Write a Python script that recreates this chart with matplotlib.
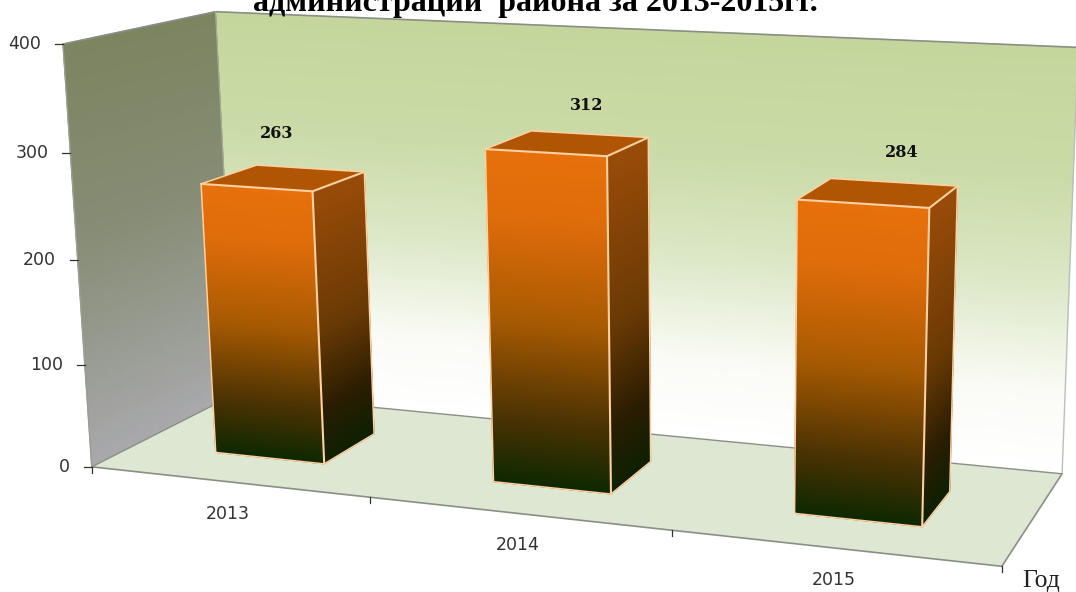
import numpy as np
import matplotlib
import matplotlib.pyplot as plt
from matplotlib.colors import LinearSegmentedColormap

matplotlib.use('Agg')

# --- data ---
years = ['2013', '2014', '2015']
values = [263, 312, 284]
value_ticks = [0, 100, 200, 300, 400]
title = 'администрации  района за 2013-2015гг.'
x_axis_name = 'Год'

# --- camera: where known box points land on the picture (x, value, depth) -> (px, py) ---
anchors = [
    ((0, 0, 0), (92, 467)),
    ((1, 0, 0), (371, 497)),
    ((2, 0, 0), (672, 531)),
    ((3, 0, 0), (1002, 565)),
    ((0, 0, 1), (235, 393)),
    ((3, 0, 1), (1062, 475)),
    ((0, 100, 0), (85, 366)),
    ((0, 200, 0), (77, 260)),
    ((0, 300, 0), (70, 152)),
    ((0, 400, 0), (63, 45)),
    ((0, 400, 1), (216, 12)),
    ((3, 400, 1), (1078, 47)),
]


def fit_camera(points):
    rows, rhs = [], []
    for (x, v, z), (px, py) in points:
        v = v / 400
        rows.append([x, v, z, 1, 0, 0, 0, 0, -px * x, -px * v, -px * z])
        rows.append([0, 0, 0, 0, x, v, z, 1, -py * x, -py * v, -py * z])
        rhs += [px, py]
    sol = np.linalg.lstsq(np.array(rows, float), np.array(rhs, float), rcond=None)[0]
    return np.append(sol, 1).reshape(3, 4)


camera = fit_camera(anchors)


def project(x, v, z):
    x, v, z = np.broadcast_arrays(x, np.asarray(v, float) / 400, z)
    w = camera[2, 0] * x + camera[2, 1] * v + camera[2, 2] * z + camera[2, 3]
    px = (camera[0, 0] * x + camera[0, 1] * v + camera[0, 2] * z + camera[0, 3]) / w
    py = (camera[1, 0] * x + camera[1, 1] * v + camera[1, 2] * z + camera[1, 3]) / w
    return px, py


fig = plt.figure(figsize=(10.76, 5.92), dpi=100, facecolor='white')
ax = fig.add_axes([0, 0, 1, 1])
ax.set_xlim(0, 1076)
ax.set_ylim(592, 0)
ax.axis('off')


def shaded_face(a, b, c, d, cmap, zorder):
    # a-b is the top edge, d-c the bottom one; colour runs from top to bottom
    s, t = np.meshgrid(np.linspace(0, 1, 12), np.linspace(0, 1, 60))
    pts = [(1 - s) * (1 - t) * a[i] + s * (1 - t) * b[i] + s * t * c[i] + (1 - s) * t * d[i]
           for i in range(3)]
    px, py = project(*pts)
    ax.pcolormesh(px, py, t, cmap=cmap, shading='gouraud', vmin=0, vmax=1, zorder=zorder)


def outline(points, color, lw, zorder):
    px, py = project(*np.array(points, float).T)
    ax.plot(px, py, color=color, lw=lw, zorder=zorder, solid_capstyle='round')


def solid_face(points, color, zorder):
    px, py = project(*np.array(points, float).T)
    ax.fill(px, py, color=color, lw=0, zorder=zorder)


back_cmap = LinearSegmentedColormap.from_list('back', [
    (0, '#c4d69c'), (0.3, '#cbdba8'), (0.55, '#dde8c8'), (0.8, '#fafbf6'), (1, '#ffffff')])
left_cmap = LinearSegmentedColormap.from_list('left', [
    (0, '#7c8460'), (0.45, '#878d76'), (1, '#a9a9ac')])
front_cmap = LinearSegmentedColormap.from_list('front', [
    (0, '#e6700c'), (0.2, '#df6c0a'), (0.5, '#a85a02'), (0.8, '#4a3203'), (1, '#0e2800')])
side_cmap = LinearSegmentedColormap.from_list('side', [
    (0, '#9a4c08'), (0.5, '#6a3a05'), (0.8, '#2a1d02'), (1, '#0e2000')])

# walls and floor
wall_line = '#8a8f85'
shaded_face((0, 400, 1), (3, 400, 1), (3, 0, 1), (0, 0, 1), back_cmap, 1)
shaded_face((0, 400, 0), (0, 400, 1), (0, 0, 1), (0, 0, 0), left_cmap, 1)
solid_face([(0, 0, 0), (3, 0, 0), (3, 0, 1), (0, 0, 1)], '#dde7d2', 2)
outline([(0, 400, 0), (0, 400, 1), (3, 400, 1)], wall_line, 1.2, 3)
outline([(3, 0, 1), (3, 0, 0), (0, 0, 0)], wall_line, 1.2, 3)
outline([(0, 0, 0), (0, 400, 0)], '#9a9e94', 1.0, 3)
outline([(3, 400, 1), (3, 0, 1)], '#bdbdbd', 1.0, 3)
outline([(0, 0, 0), (0, 0, 1), (3, 0, 1)], wall_line, 1.0, 3)
outline([(0, 400, 1), (0, 0, 1)], '#a5ad98', 0.8, 3)

# bars
bar_half = 0.2
bar_front = 0.29
bar_back = 0.68
bar_edge = '#ffd0a0'
for i, val in enumerate(values):
    x0, x1 = i + 0.5 - bar_half, i + 0.5 + bar_half
    z0, z1 = bar_front, bar_back
    shaded_face((x0, val, z0), (x1, val, z0), (x1, 0, z0), (x0, 0, z0), front_cmap, 5)
    shaded_face((x1, val, z0), (x1, val, z1), (x1, 0, z1), (x1, 0, z0), side_cmap, 5)
    solid_face([(x0, val, z0), (x1, val, z0), (x1, val, z1), (x0, val, z1)], '#b05504', 5)
    outline([(x0, 0, z0), (x0, val, z0), (x0, val, z1), (x1, val, z1), (x1, 0, z1),
             (x1, 0, z0), (x0, 0, z0)], bar_edge, 1.1, 6)
    outline([(x0, val, z0), (x1, val, z0), (x1, val, z1)], bar_edge, 1.5, 6)
    outline([(x1, val, z0), (x1, 0, z0)], bar_edge, 1.5, 6)

# value axis
for v in value_ticks:
    px, py = project(0, v, 0)
    ax.plot([px - 8, px], [py, py], color='#333333', lw=0.9, zorder=3)
    ax.text(px - 22, py, str(v), ha='right', va='center', fontsize=12.5, color='#333333',
            family='DejaVu Sans')

# year axis
for i in range(len(years) + 1):
    px, py = project(i, 0, 0)
    ax.plot([px, px], [py, py + 6], color='#333333', lw=0.9, zorder=3)
for i, year in enumerate(years):
    px, py = project(i + 0.5, 0, 0)
    ax.text(px, py + 32, year, ha='center', va='center', fontsize=12.5, color='#333333',
            family='DejaVu Sans')

# value labels
label_dx = [-7, 19, 23]
label_dy = [-44, -38, -40]
for i, val in enumerate(values):
    px, py = project(i + 0.5, val, (bar_front + bar_back) / 2)
    ax.text(px + label_dx[i], py + label_dy[i], str(val), ha='center', va='center',
            fontsize=11.5, color='#111111', family='DejaVu Serif', fontweight='bold', zorder=7)

# the title is cut by the top edge in the reference too
ax.text(535, 11, title, ha='center', va='baseline', fontsize=23, fontweight='bold',
        family='Liberation Serif', color='black', zorder=8)
ax.text(1041, 587, x_axis_name, ha='center', va='baseline', fontsize=18.5,
        family='Liberation Serif', color='#222222', zorder=8)

fig.savefig('out.png', dpi=100)
